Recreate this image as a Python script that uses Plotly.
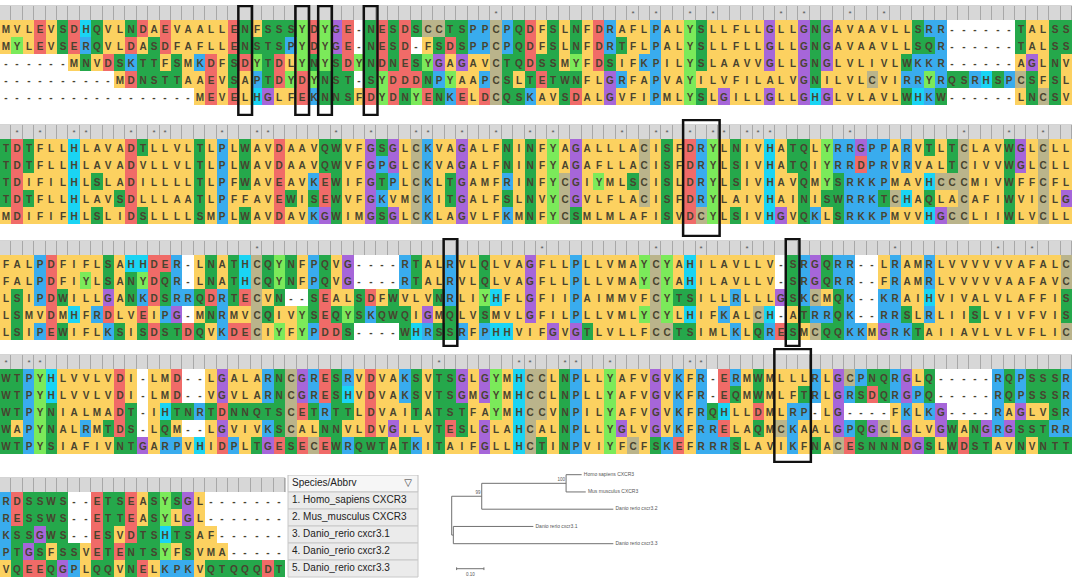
import numpy as np
import plotly.graph_objects as go

# ---------------- data ----------------
block1 = [
    "MVLEVSDHQVLNDAEVAALLENFSSSYDYGE-NESDSCCTSPPCPQDFSLNFDRAFLPALYSLLFLLGLLGNGAVAAVLLSRR------TALSS",
    "MYLEVSERQVLDASDFAFLLENSTSPYDYGE-NESD-FSDSPPCPQDFSLNFDRTFLPALYSLLFLLGLLGNGAVAAVLLSQR------TALSS",
    "------MNVDSKTTFSMKDFSDYTDLYNYSDYNDNESYGAGAVCTQDSSMYFDSIFKPILYSLAAVVGLLGNGLVLIVLWKKR------AGLNV",
    "----------MDNSTTAAEVSAPTDYDYNST-SYDDDNPYAAPCSLTETWNFLGRFAPVAYILVFILALVGNILVLCVIRRYRQSRHSPCSFSL",
    "-----------------MEVELHGLFEKNNSFDYDNYENKELDCQSKAVSDALGVFIPMLYSLGILLGLLGHGLVLAVLWHKW------LNCSV",
]
block2 = [
    "TDTFLLHLAVADTLLVLTLPLWAVDAAVQWVFGSGLCKVAGALFNINFYAGALLLACISFDRYLNIVHATQLYRRGPPARVTLTCLAVWGLCLL",
    "TDTFLLHLAVADVLLVLTLPLWAVDAAVQWVFGPGLCKVAGALFNINFYAGAFLLACISFDRYLSIVHATQIYRRDPRVRVALTCIVVWGLCLL",
    "TDIFILHLSLADILLLLTLPFWAVEAVKEWIFGTPLCKLTGAMFRINFYCGIYMLSCISLDRYLSIVHAVQMYSRKKPMAVHCCCMIVWFFCFL",
    "TDTFLLHLAVSDLLLAATLPFFAVEWISEWVFGKVMCKITGALFSLNVYCGVLFLACISFDRYLAIVHAINISWRRKTCHAQLACAFIWVICLG",
    "MDIFIFHLSLIDSLLLLSMPLWAVDAVKGWIMGSGLCKLAGVLFKMNFYCSMLMLAFISVDCYLSIVHGVQKLSRKKPMVVHGCCLIIWLVCLL",
]
block3 = [
    "FALPDFIFLSAHHDER-LNATHCQYNFPQVG----RTALRVLQLVAGFLLPLLVMAYCYAHILAVLLV-SRGQRR--LRAMRLVVVVVVAFALC",
    "FALPDFIYLSANYDQR-LNATHCQYNFPQVG----RTALRVLQLVAGFLLPLLVMAYCYAHILAVLLV-SRGQRR--FRAMRLVVVVVAAFAVC",
    "LSIPDWILLGANKDSRRQDRTECVN--SEALSDFWVLVNRLIYHFLGFIIPAIMMVFCYTSILLRLLLGSKCMQK--KRAIHVIVALVLAFFIS",
    "LSMVDMHFRDLVEIPG-MNRMVCQIVYSEQYSKQWQIGMQLVSMVLGFILPLLVMLYCYLHIFKALCH-ATRRQK--RRSLRLIISLVIVFVIS",
    "LSIPEWIFLKSISDSTDQVKDECIYFYPDDS----WHRSSRFPHHVIFGVGTLVLLFCCTSIMLKLQRESMCQQKKMGRKTAIIAVLVLVFLIC",
]
block4 = [
    "WTPYHLVVLVDI-LMD--LGALARNCGRESRVDVAKSVTSGLGYMHCCLNPLLYAFVGVKFR-ERMWMLLLRLGCPNQRGLQ-----RQPSSSR",
    "WTPYHLVVLVDI-LMD--VGVLARNCGRESHVDVAKSVTSGMGYMHCCLNPLLYAFVGVKFR-EQMWMLFTRLGRSDQRGPQ-----RQPSSSR",
    "WTPYNIALMADT-IHTNRTDNNQTSCETRTTLDVAITATSTFAYMHCCVNPILYAFVGVKFRQHLLDMLRP-LG----FKLKG----RAGLVSR",
    "WAPYNALRMTDS-LQM--LGVIVKSCALNNVLDVGILVTESLGLAHCALNPLLYGLVGVKFRRELAQMCKAALGPQGCLGLVGWANGRGSSTRR",
    "WTPYSIAFIVNTGARPVHIDPLTGESECEWRQWTATKITAIFGLLHCTINPVIYFCFSKEFRRRSLAVIKFNACESNNNDGSLWDSTAVNVNTT",
]
block5 = [
    "RDSSWS--ETSEASYSGL-------",
    "RESSWS--ETTEASYLGL-------",
    "KSSGWS--ESVDTSHTSAF------",
    "PTGSFSSVETENTSYFSVMA-----",
    "VQEEQGPLQQVNELKPKVQTQQQDT",
]
blocks = [block1, block2, block3, block4, block5]

species = [
    "1. Homo_sapiens CXCR3",
    "2. Mus_musculus CXCR3",
    "3. Danio_rerio cxcr3.1",
    "4. Danio_rerio cxcr3.2",
    "5. Danio_rerio cxcr3.3",
]
table_header = "Species/Abbrv"

# highlighted motif columns (first, last) per block
boxed_columns = [[(22, 22), (27, 27), (29, 29), (33, 33)], [(61, 63)], [(40, 40), (70, 70)], [(69, 71)], []]

# neighbour-joining tree: internal node = (children, branch length, support), tip = (name, branch length)
tree = ([
    ([
        ([("Homo sapiens CXCR3", 0.057), ("Mus musculus CXCR3", 0.072)], 0.309, "100"),
        ("Danio rerio cxcr3.2", 0.482),
    ], 0.110, "99"),
    ([("Danio rerio cxcr3.1", 0.293), ("Danio rerio cxcr3.3", 0.586)], 0.006, ""),
], 0.0, "")
scale_bar_length = 0.10
scale_bar_label = "0.10"

# residue colour classes
residue_class = {"-": 0}
for aa in "AVLIMF":
    residue_class[aa] = 1
for aa in "DE":
    residue_class[aa] = 2
for aa in "STNQW":
    residue_class[aa] = 3
for aa in "KRP":
    residue_class[aa] = 4
residue_class["H"] = 5
residue_class["C"] = 6
residue_class["G"] = 7
residue_class["Y"] = 8
class_colors = ["#FFFFFF", "#FCD160", "#F06B68", "#25A84B", "#39ACEE",
                "#1AD4F4", "#BAB48B", "#A666D9", "#7BEA5A"]

# ---------------- geometry / style ----------------
W, H = 1072, 584
NCOL = 94
CW = W / NCOL
RH = 17.0            # residue row height, px
HH = 14.0            # conservation header height, px
block_top = [6, 125, 241, 355, 478]
box_ext_top = [1, 6, 3, 7, 3]
box_ext_bot = [11, 13, 7, 9, 2]
LETTER_FONT = dict(family="Liberation Sans", size=10, color="#48432F", weight="bold")
HEAD_FILL = "#D7D7D7"
HEAD_LINE = "#A8A8A8"
TABLE_LEFT_PX, TABLE_RIGHT_PX = 288, 418
TABLE_FONT = dict(family="Liberation Sans", size=10, color="#222222")

ncls = len(class_colors)
cscale = []
for k, c in enumerate(class_colors):
    cscale.append([k / ncls, c])
    cscale.append([(k + 1) / ncls, c])


def py(p):
    return 1 - p / H


fig = go.Figure()
layout_axes = {}
shapes = []

for b, block in enumerate(blocks):
    k = b + 1
    n = len(block[0])
    xa = "x" if k == 1 else f"x{k}"
    ya = "y" if k == 1 else f"y{k}"
    xkey = "xaxis" if k == 1 else f"xaxis{k}"
    ykey = "yaxis" if k == 1 else f"yaxis{k}"

    xe = np.arange(0.5, n + 1.0)
    stars = []
    for c in range(n):
        col = [r[c] for r in block]
        stars.append("*" if (len(set(col)) == 1 and col[0] != "-") else "")

    letters = [list(r) for r in block]
    codes = [[residue_class[ch] for ch in r] for r in block]

    hunit = HH / RH
    top_u = -(HH + box_ext_top[b]) / RH
    bot_u = len(block) + box_ext_bot[b] / RH
    dom_top = block_top[b] - box_ext_top[b]
    dom_bot = block_top[b] + HH + len(block) * RH + box_ext_bot[b]

    fig.add_trace(go.Heatmap(
        x=xe, y=[-hunit, 0], z=[[0] * n], text=[stars], texttemplate="%{text}",
        textfont=dict(family="Liberation Sans", size=8, color="#555555"),
        colorscale=[[0, HEAD_FILL], [1, HEAD_FILL]], showscale=False, xgap=1,
        hoverinfo="skip", xaxis=xa, yaxis=ya))
    fig.add_trace(go.Heatmap(
        x=xe, y=np.arange(0, len(block) + 1), z=codes, text=letters,
        texttemplate="%{text}", textfont=LETTER_FONT, colorscale=cscale,
        zmin=-0.5, zmax=ncls - 0.5, showscale=False, hoverinfo="skip",
        xaxis=xa, yaxis=ya))

    shapes.append(dict(type="rect", xref=xa, yref=ya, x0=0.5, x1=n + 0.5,
                       y0=-hunit, y1=0, fillcolor=HEAD_LINE,
                       line=dict(color=HEAD_LINE, width=1), layer="below"))
    for (c0, c1) in boxed_columns[b]:
        shapes.append(dict(type="rect", xref=xa, yref=ya,
                           x0=c0 - 0.5 - 0.1, x1=c1 + 0.5 + 0.1,
                           y0=top_u + 0.06, y1=bot_u - 0.06,
                           line=dict(color="#111111", width=2.5), layer="above"))

    right_px = n * CW
    if b == 4:
        right_px = TABLE_RIGHT_PX + 2
    layout_axes[xkey] = dict(domain=[0, right_px / W], range=[0.5, 0.5 + right_px / CW],
                             visible=False, fixedrange=True, anchor=ya)
    layout_axes[ykey] = dict(domain=[py(dom_bot), py(dom_top)], range=[bot_u, top_u],
                             visible=False, fixedrange=True, anchor=xa)

# ---------------- species table (drawn on the last block's axes) ----------------
tl = 0.5 + TABLE_LEFT_PX / CW
tr = 0.5 + TABLE_RIGHT_PX / CW
shapes.append(dict(type="rect", xref="x5", yref="y5", x0=tl, x1=tr, y0=-1, y1=0,
                   fillcolor="#F6F6F6", line=dict(color="#BEBEBE", width=1), layer="below"))
for i in range(len(species)):
    shapes.append(dict(type="rect", xref="x5", yref="y5", x0=tl, x1=tr, y0=i, y1=i + 1,
                       fillcolor="#EBEBEB", line=dict(color="#C8C8C8", width=1), layer="below"))
fig.add_trace(go.Scatter(
    x=[tl + 4 / CW] * (len(species) + 1), y=[-0.5] + [i + 0.5 for i in range(len(species))],
    text=[table_header] + species, mode="text", textposition="middle right",
    textfont=TABLE_FONT, hoverinfo="skip", xaxis="x5", yaxis="y5"))
fig.add_trace(go.Scatter(
    x=[tr - 10 / CW], y=[-0.5], text=["▽"], mode="text", textposition="middle center",
    textfont=dict(family="DejaVu Sans", size=10, color="#333333"),
    hoverinfo="skip", xaxis="x5", yaxis="y5"))

# ---------------- tree ----------------
lx, ly = [], []
tips = []
supports = []


def place(node, x0):
    if isinstance(node[0], list):
        children, bl, sup = node
        x = x0 + bl
        ys = [place(ch, x) for ch in children]
        y = (ys[0] + ys[-1]) / 2
        lx.extend([x, x, None]); ly.extend([ys[0], ys[-1], None])
        if bl > 0:
            lx.extend([x0, x, None]); ly.extend([y, y, None])
        if sup:
            supports.append((x, y, sup))
        return y
    name, bl = node
    x = x0 + bl
    y = len(tips)
    tips.append((name, x, y))
    lx.extend([x0, x, None]); ly.extend([y, y, None])
    return y


place(tree, 0.0)
TPX = 273.0       # px per unit branch length
TROW = 17.25      # px per tip
root_px, tip0_px = 451.7, 474.7
tx0, tx1, ty0, ty1 = 440, 720, 462, 584
fig.add_trace(go.Scatter(x=lx, y=ly, mode="lines", line=dict(color="#707070", width=1),
                         hoverinfo="skip", xaxis="x6", yaxis="y6"))
fig.add_trace(go.Scatter(x=[t[1] + 0.008 for t in tips], y=[t[2] for t in tips],
                         text=[t[0] for t in tips], mode="text", textposition="middle right",
                         textfont=dict(family="Liberation Sans", size=5, color="#555555"),
                         hoverinfo="skip", xaxis="x6", yaxis="y6"))
fig.add_trace(go.Scatter(x=[s[0] - 0.004 for s in supports], y=[s[1] - 0.05 for s in supports],
                         text=[s[2] for s in supports], mode="text", textposition="top left",
                         textfont=dict(family="Liberation Sans", size=4.5, color="#555555"),
                         hoverinfo="skip", xaxis="x6", yaxis="y6"))
sb_x0 = 0.018
sb_y = len(tips) + 0.45
fig.add_trace(go.Scatter(
    x=[sb_x0, sb_x0 + scale_bar_length, None, sb_x0, sb_x0, None,
       sb_x0 + scale_bar_length, sb_x0 + scale_bar_length],
    y=[sb_y, sb_y, None, sb_y - 0.08, sb_y + 0.08, None, sb_y - 0.08, sb_y + 0.08],
    mode="lines", line=dict(color="#707070", width=1), hoverinfo="skip",
    xaxis="x6", yaxis="y6"))
fig.add_trace(go.Scatter(x=[sb_x0 + scale_bar_length / 2], y=[sb_y + 0.22], text=[scale_bar_label],
                         mode="text", textposition="bottom center",
                         textfont=dict(family="Liberation Sans", size=4.5, color="#555555"),
                         hoverinfo="skip", xaxis="x6", yaxis="y6"))
layout_axes["xaxis6"] = dict(domain=[tx0 / W, tx1 / W],
                             range=[(tx0 - root_px) / TPX, (tx1 - root_px) / TPX],
                             visible=False, fixedrange=True, anchor="y6")
layout_axes["yaxis6"] = dict(domain=[py(ty1), py(ty0)],
                             range=[(ty1 - tip0_px) / TROW, (ty0 - tip0_px) / TROW],
                             visible=False, fixedrange=True, anchor="x6")

fig.update_layout(width=W, height=H, margin=dict(l=0, r=0, t=0, b=0),
                  paper_bgcolor="white", plot_bgcolor="white", showlegend=False,
                  shapes=shapes, **layout_axes)
fig.write_html("out.html", config={"displayModeBar": False},
               post_script="document.body.style.margin='0px';document.body.style.overflow='hidden';")
